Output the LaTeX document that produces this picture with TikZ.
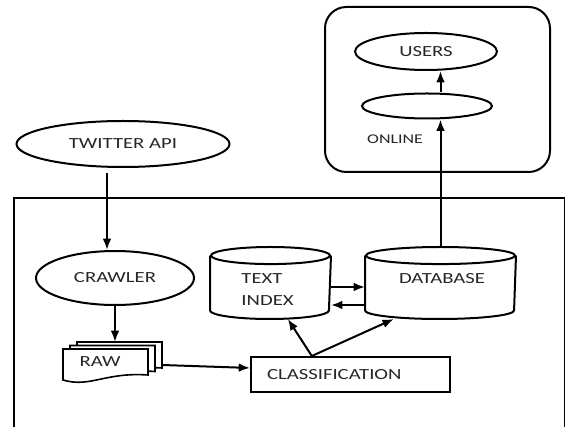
\documentclass[tikz,border=0pt]{standalone}
\usepackage{fontspec}
\setmainfont{Carlito}[FakeStretch=1.34]
\usetikzlibrary{arrows.meta,shapes.geometric,positioning}

\begin{document}
\begin{tikzpicture}[x=0.75pt,y=-0.75pt,line width=1.5pt,
  every node/.style={font=\fontsize{11.6pt}{14pt}\selectfont,text=black!85},
  ellip/.style={draw,ellipse,inner sep=0pt},
  cylbox/.style={inner sep=0pt,minimum height=52.5pt},
  arr/.style={-{Latex[length=8.5pt,width=6.5pt]}}]
  \useasboundingbox (0,0) rectangle (565,427);
  % online part
  \draw[rounded corners=16pt] (325,7) rectangle (550,172);
  \node[ellip,minimum width=106.5pt,minimum height=27.75pt] (users) at (426,51.5) {USERS};
  \node[ellip,minimum width=97.5pt,minimum height=18.75pt] (online) at (427,106) {};
  \node[font=\fontsize{10pt}{12pt}\selectfont] (onlinelab) at (395,139) {ONLINE};
  % offline part
  \node[ellip,minimum width=159.75pt,minimum height=34.5pt] (twitter) at (123,144) {TWITTER API};
  \draw (14,430) -- (14,198) -- (564.5,198) -- (564.5,430);
  \node[ellip,minimum width=118.5pt,minimum height=40.5pt] (crawler) at (115,278) {CRAWLER};
  \foreach \dx/\dy in {14/-7,7/-3.5,0/0}
    \draw[fill=white,line width=1.2pt] (63+\dx,349+\dy) -- (148+\dx,349+\dy) -- (148+\dx,375+\dy)
      .. controls (105+\dx,372+\dy) and (90+\dx,388+\dy) .. (63+\dx,380+\dy) -- cycle;
  \node (raw) at (100,362) {RAW};
  \coordinate (rawtop) at (115,342);
  \coordinate (rawout) at (162,365);
  \node[draw,minimum width=149.25pt,minimum height=26.25pt,inner xsep=12pt,text width=125.25pt,align=left] (class) at (350.5,374.5) {CLASSIFICATION};
  \node[cylbox,minimum width=89.25pt] (tindex) at (270.5,283) {};
  \node[cylbox,minimum width=111.75pt] (db) at (440.5,283) {};
  \foreach \n/\r in {tindex/44.6,db/55.9}{
    \draw ([yshift=-6.4pt]\n.north) ellipse [x radius=\r pt,y radius=6.4pt];
    \draw ([yshift=-6.4pt]\n.north west) -- ([yshift=6.4pt]\n.south west)
      arc [start angle=180,end angle=360,x radius=\r pt,y radius=6.4pt] -- ([yshift=-6.4pt]\n.north east);
  }
  \node[anchor=west,align=left] (tindexlab) at (236,289.5) {TEXT\\[3pt]INDEX};
  \node (dblab) at (442,279) {DATABASE};
  % connectors
  \draw[arr] ([xshift=-12pt,yshift=-4pt]twitter.south) -- ([xshift=-6pt]crawler.north);
  \draw[arr] (crawler.south) -- (rawtop);
  \draw[arr] (rawout) -- ([yshift=4.9pt]class.west);
  \draw[arr] ([xshift=-29pt]class.north) -- ([xshift=13pt]tindex.south);
  \draw[arr] ([xshift=-29pt]class.north) -- ([xshift=-35pt]db.south);
  \draw[arr] ([yshift=-3pt]tindex.east) -- ([yshift=-3pt]db.west);
  \draw[arr] ([yshift=-16.5pt]db.west) -- ([yshift=-16.5pt]tindex.east);
  \draw[arr] (db.north) -- (db.north |- online.south);
  \draw[arr] (online.north -| db.north) -- (users.south -| db.north);
\end{tikzpicture}
\end{document}
